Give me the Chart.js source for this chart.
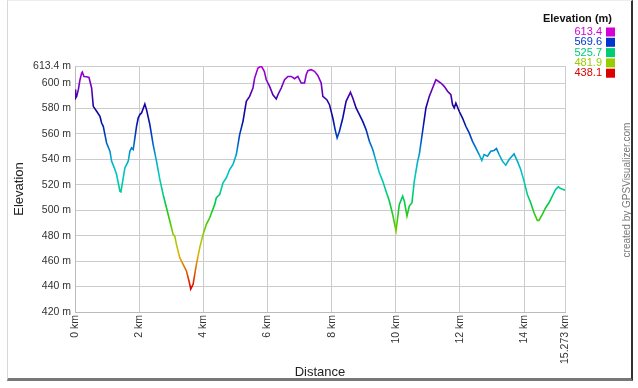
<!DOCTYPE html>
<html>
<head>
<meta charset="utf-8">
<script src="https://cdn.jsdelivr.net/npm/chart.js@4"></script>
<style>
  html, body { margin: 0; padding: 0; background: #fff; }
  #wrap { position: relative; width: 638px; height: 388px; overflow: hidden; }
  #frame {
    position: absolute; left: 7px; top: 0; width: 623px; height: 377px;
    border-left: 1px solid #d8d8d8; border-top: 1px solid #eee;
    border-right: 2px solid #333; border-bottom: 3px solid #777;
    pointer-events: none;
  }
  canvas { position: absolute; left: 0; top: 0; }
</style>
</head>
<body>
<div id="wrap">
  <canvas id="elevChart" width="638" height="388"></canvas>
  <div id="frame"></div>
</div>
<script>
// distance along the track (km) and elevation (m)
const distKm = [
  0, 0.02, 0.052, 0.104, 0.156, 0.207, 0.228, 0.28, 0.363, 0.436, 0.518, 0.57, 0.674, 0.778, 0.83,
  0.881, 0.933, 0.985, 1.089, 1.14, 1.244, 1.296, 1.4, 1.431, 1.503, 1.555, 1.659, 1.711, 1.763,
  1.815, 1.918, 1.97, 2.022, 2.074, 2.177, 2.229, 2.333, 2.436, 2.54, 2.644, 2.747, 2.851, 2.955,
  3.058, 3.11, 3.162, 3.266, 3.37, 3.473, 3.525, 3.577, 3.608, 3.681, 3.733, 3.784, 3.888, 3.992,
  4.095, 4.199, 4.355, 4.406, 4.51, 4.614, 4.717, 4.821, 4.925, 5.028, 5.132, 5.236, 5.34, 5.443,
  5.547, 5.599, 5.703, 5.807, 5.9, 5.962, 6.066, 6.169, 6.273, 6.325, 6.429, 6.532, 6.636, 6.74,
  6.843, 6.947, 7.05, 7.154, 7.206, 7.258, 7.362, 7.465, 7.569, 7.673, 7.725, 7.849, 7.932, 8.036,
  8.108, 8.17, 8.243, 8.347, 8.45, 8.585, 8.658, 8.761, 8.865, 8.969, 9.072, 9.176, 9.28, 9.383,
  9.487, 9.591, 9.694, 9.798, 9.902, 10.005, 10.057, 10.109, 10.213, 10.265, 10.348, 10.42, 10.503,
  10.576, 10.68, 10.731, 10.835, 10.938, 11.042, 11.146, 11.249, 11.301, 11.405, 11.508, 11.612,
  11.716, 11.768, 11.82, 11.871, 11.975, 12.079, 12.182, 12.286, 12.39, 12.493, 12.597, 12.68,
  12.752, 12.856, 12.96, 13.063, 13.136, 13.219, 13.323, 13.426, 13.53, 13.685, 13.789, 13.893,
  13.996, 14.1, 14.204, 14.307, 14.411, 14.463, 14.566, 14.67, 14.774, 14.877, 14.981, 15.064,
  15.137, 15.273
];
const elevM = [
  595, 588.2, 589.5, 594.8, 602.6, 607.8, 608.6, 605.2, 605, 604.4, 596.1, 581.7, 577.8, 573.9, 568.6,
  566, 559.5, 552.9, 546.4, 538.6, 532, 528.1, 515, 514.5, 525.5, 533.3, 538.6, 546.4, 549,
  547.7, 566, 572.5, 575.2, 576.5, 583.5, 579.1, 567.3, 551.6, 538.6, 524.2, 512.4, 502, 491.5,
  481, 479.7, 473.2, 462.7, 457.5, 452.3, 447.1, 441.8, 438.1, 441.8, 449.7, 457.5, 470.6, 481,
  488.9, 494.1, 504.6, 509.8, 512.4, 521.6, 525.5, 532, 536, 543.8, 559.5, 569.9, 585.6, 589.5,
  596.1, 603.9, 611.8, 613.4, 609.2, 602.6, 597.4, 590.8, 587.5, 590.8, 596.1, 602.6, 605.2, 605.2,
  603.4, 605.2, 600, 600, 606.5, 609.7, 610.5, 609.2, 606, 600, 589.5, 586.9, 583, 572.5,
  563.4, 556.9, 562.1, 572.5, 585.6, 592.7, 588.2, 580.4, 575.2, 569.9, 563.4, 554.2, 547.7, 538.6,
  529.4, 522.9, 515, 507.2, 496.7, 483.7, 494.1, 504.6, 511.1, 507.2, 495.4, 503.3, 505.9,
  522.9, 538.6, 543.8, 562.1, 580.4, 589.5, 596.1, 602.6, 601.8, 600, 597.4, 593.5,
  590.8, 583, 580.4, 584.3, 577.8, 572.5, 566, 560.8, 554.2, 549, 543.8, 539.1,
  543.8, 542.5, 546.4, 547, 548.5, 543.8, 538.6, 535.4, 539.9, 544.3, 538.6, 532,
  522.9, 512.4, 505.9, 498, 492, 492, 496.7, 502, 505.9, 511.1, 516.3, 518.4,
  517.1, 515.8
];

const xTicks = [0, 2, 4, 6, 8, 10, 12, 14, 15.273];
const yTicks = [420, 440, 460, 480, 500, 520, 540, 560, 580, 600, 613.4];

// legend: elevation bands
const legendValues = ['613.4', '569.6', '525.7', '481.9', '438.1'];
const legendColors = ['#d400d4', '#0036cc', '#00cc77', '#99cc00', '#dd0000'];

const elevMin = 438.1;
const elevMax = 613.4;

function lineGradient(context) {
    const chart = context.chart;
    if (!chart.chartArea) return '#0033cc';
    const y = chart.scales.y;
    const top = y.getPixelForValue(elevMax);
    const bottom = y.getPixelForValue(elevMin);
    const g = chart.ctx.createLinearGradient(0, top, 0, bottom);
    g.addColorStop(0.00, '#b000d8');
    g.addColorStop(0.10, '#6a00c0');
    g.addColorStop(0.18, '#1a00a0');
    g.addColorStop(0.25, '#0010a8');
    g.addColorStop(0.33, '#0050c8');
    g.addColorStop(0.41, '#00a8d0');
    g.addColorStop(0.49, '#00c8c0');
    g.addColorStop(0.56, '#00cc90');
    g.addColorStop(0.62, '#00cc40');
    g.addColorStop(0.70, '#40cc00');
    g.addColorStop(0.78, '#a8cc00');
    g.addColorStop(0.85, '#e0b000');
    g.addColorStop(0.92, '#e06000');
    g.addColorStop(1.00, '#dd0000');
    return g;
}

// legend box and credit text drawn on top of the chart
const extras = {
    id: 'extras',
    afterDraw(chart) {
        const ctx = chart.ctx;
        ctx.save();
        ctx.textBaseline = 'middle';
        ctx.textAlign = 'right';
        ctx.fillStyle = '#111';
        ctx.font = 'bold 11px "Liberation Sans", Arial, sans-serif';
        ctx.fillText('Elevation (m)', 612, 19);
        ctx.font = '11px "Liberation Sans", Arial, sans-serif';
        legendValues.forEach((v, i) => {
            const cy = 32 + i * 10.3;
            ctx.fillStyle = legendColors[i];
            ctx.fillText(v, 602, cy);
            ctx.fillRect(606, cy - 4.5, 9, 9);
        });

        ctx.translate(627, 190);
        ctx.rotate(-Math.PI / 2);
        ctx.textAlign = 'center';
        ctx.fillStyle = '#777';
        ctx.font = '10px "Liberation Sans", Arial, sans-serif';
        ctx.fillText('created by GPSVisualizer.com', 0, 0);
        ctx.restore();
    }
};

const tickFont = { family: '"Liberation Sans", Arial, sans-serif', size: 10.5 };
const titleFont = { family: '"Liberation Sans", Arial, sans-serif', size: 13 };

new Chart(document.getElementById('elevChart').getContext('2d'), {
    type: 'line',
    data: {
        datasets: [{
            label: 'Elevation',
            data: distKm.map((d, i) => ({ x: d, y: elevM[i] })),
            borderColor: lineGradient,
            borderWidth: 1.6,
            pointRadius: 0,
            tension: 0,
            fill: false
        }]
    },
    options: {
        responsive: false,
        devicePixelRatio: 1,
        animation: false,
        layout: { padding: { top: 66, right: 73, left: 0, bottom: 0 } },
        plugins: {
            legend: { display: false },
            tooltip: { enabled: false }
        },
        scales: {
            x: {
                type: 'linear',
                min: 0,
                max: 15.273,
                afterBuildTicks: scale => { scale.ticks = xTicks.map(v => ({ value: v })); },
                afterFit: scale => { scale.height = 76; },
                ticks: {
                    autoSkip: false,
                    minRotation: 90,
                    maxRotation: 90,
                    padding: 3,
                    color: '#333',
                    font: tickFont,
                    callback: v => v + ' km'
                },
                grid: { color: '#cccccc', drawTicks: false },
                border: { color: '#bbbbbb' },
                title: {
                    display: true,
                    text: 'Distance',
                    color: '#222',
                    font: titleFont,
                    padding: { top: 0, bottom: 8 }
                }
            },
            y: {
                min: 420,
                max: 613.4,
                afterBuildTicks: scale => { scale.ticks = yTicks.map(v => ({ value: v })); },
                afterFit: scale => { scale.width = 75; },
                ticks: {
                    padding: 4,
                    color: '#333',
                    font: tickFont,
                    callback: v => v + ' m'
                },
                grid: { color: '#cccccc', drawTicks: false },
                border: { color: '#bbbbbb' },
                title: {
                    display: true,
                    text: 'Elevation',
                    color: '#222',
                    font: titleFont,
                    padding: { top: 12, bottom: 0 }
                }
            }
        }
    },
    plugins: [extras]
});
</script>
</body>
</html>
